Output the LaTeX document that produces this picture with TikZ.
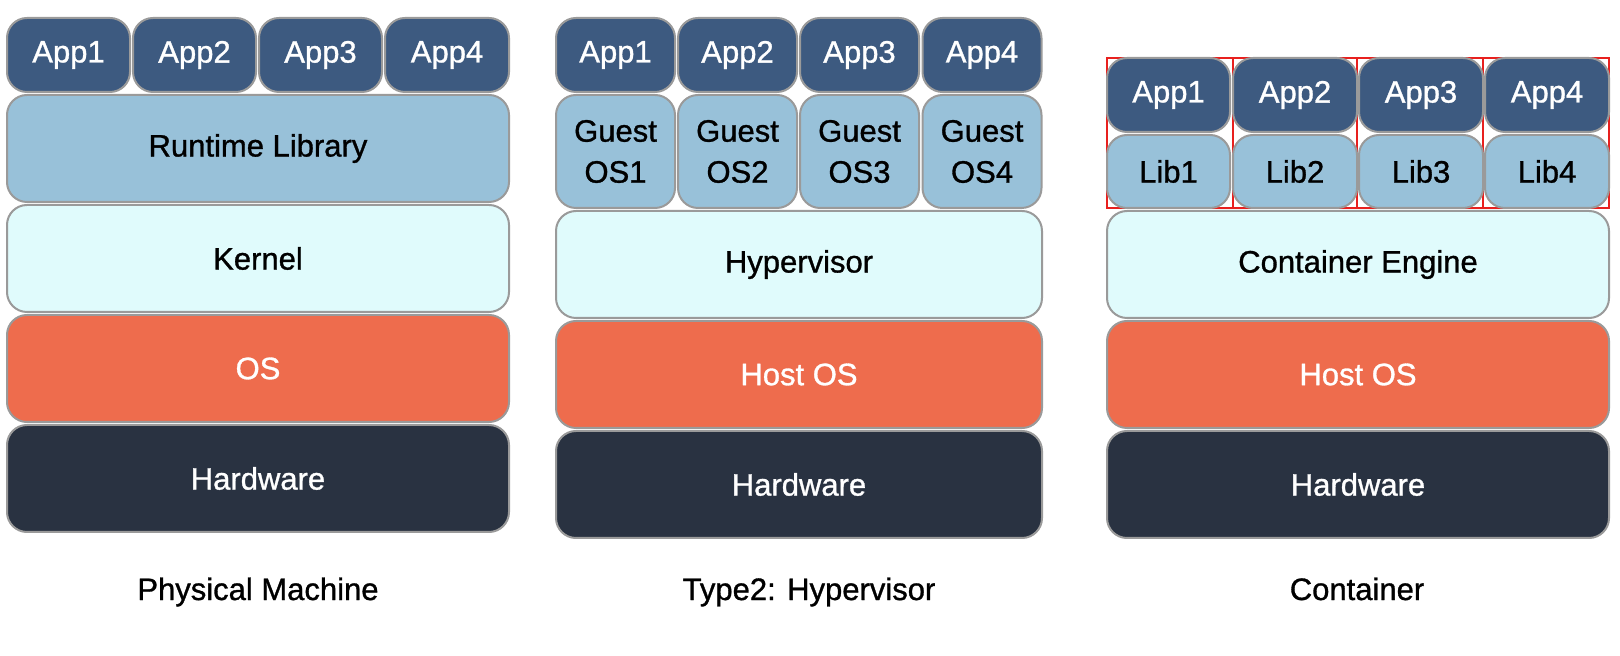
\documentclass[tikz,border=0pt]{standalone}
\usepackage{fontspec}
\newfontfamily\lblfont{Liberation Sans}[FakeBold=1.0]
\definecolor{appc}{HTML}{3D5A80}
\definecolor{libc}{HTML}{98C1D9}
\definecolor{kerc}{HTML}{E0FBFC}
\definecolor{osc}{HTML}{EE6C4D}
\definecolor{hwc}{HTML}{293241}
\definecolor{bord}{HTML}{9A9A9A}
\definecolor{redc}{HTML}{E8201E}
\tikzset{
  layer/.style={draw=bord, line width=1pt, rounded corners=10pt, inner sep=0pt, align=center,
    font=\lblfont\fontsize{15.5}{20.5}\selectfont},
  sz/.style 2 args={minimum width=#1*0.5pt, minimum height=#2*0.5pt},
  app/.style={layer, fill=appc, text=white},
  lib/.style={layer, fill=libc, text=black},
  ker/.style={layer, fill=kerc, text=black},
  hos/.style={layer, fill=osc, text=white},
  hw/.style={layer, fill=hwc, text=white},
  caption/.style={anchor=base, inner sep=0pt, font=\lblfont\fontsize{15.5}{20.5}\selectfont},
  cell/.style={draw=redc, line width=0.6pt}
}
\begin{document}
\begin{tikzpicture}[x=0.5pt, y=-0.5pt]
\useasboundingbox[fill=white] (0,0) rectangle (1620,656);

% ---------- Physical Machine ----------
\node[app, sz={123}{74}] (pa1) at (68.5,55) {App1};
\node[app, sz={123}{74}] (pa2) at (194.5,55) {\raisebox{-1.5pt}{App2}};
\node[app, sz={123}{74}] (pa3) at (320.5,55) {App3};
\node[app, sz={124}{74}] (pa4) at (447,55) {App4};
\node[lib, sz={502}{107}] (prt) at (258,148.5) {Runtime Library};
\node[ker, sz={502}{107}] (pk) at (258,258.5) {Kernel};
\node[hos, sz={502}{107}] (pos) at (258,368.5) {OS};
\node[hw, sz={502}{107}] (phw) at (258,478.5) {Hardware};
\node[caption] (pcap) at (258,600) {Physical Machine};

% ---------- Type2: Hypervisor ----------
\node[app, sz={119}{74}] (ha1) at (615.5,55) {App1};
\node[app, sz={119}{74}] (ha2) at (737.5,55) {App2};
\node[app, sz={119}{74}] (ha3) at (859.5,55) {App3};
\node[app, sz={119}{74}] (ha4) at (982,55) {App4};
\node[lib, sz={119}{113}] (hg1) at (615.5,151.5) {Guest\\OS1};
\node[lib, sz={119}{113}] (hg2) at (737.5,151.5) {Guest\\OS2};
\node[lib, sz={119}{113}] (hg3) at (859.5,151.5) {Guest\\OS3};
\node[lib, sz={119}{113}] (hg4) at (982,151.5) {Guest\\OS4};
\node[ker, sz={486}{107}] (hhv) at (799,264.5) {Hypervisor};
\node[hos, sz={486}{107}] (hos) at (799,374.5) {Host OS};
\node[hw, sz={486}{107}] (hhw) at (799,484.5) {Hardware};
\node[caption] (hcap) at (809,600) {Type2: Hypervisor};

% ---------- Container ----------
\draw[cell] (1107,58) rectangle (1233,208);
\draw[cell] (1233,58) rectangle (1357,208);
\draw[cell] (1357,58) rectangle (1483,208);
\draw[cell] (1483,58) rectangle (1609,208);
\node[app, sz={123}{74}] (ca1) at (1168.5,95) {App1};
\node[app, sz={124}{74}] (ca2) at (1295,95) {App2};
\node[app, sz={124}{74}] (ca3) at (1421,95) {App3};
\node[app, sz={124}{74}] (ca4) at (1547,95) {App4};
\node[lib, sz={123}{73}] (cl1) at (1168.5,171.5) {Lib1};
\node[lib, sz={124}{73}] (cl2) at (1295,171.5) {Lib2};
\node[lib, sz={124}{73}] (cl3) at (1421,171.5) {Lib3};
\node[lib, sz={124}{73}] (cl4) at (1547,171.5) {Lib4};
\node[ker, sz={502}{107}] (cce) at (1358,264.5) {Container Engine};
\node[hos, sz={502}{107}] (cos) at (1358,374.5) {Host OS};
\node[hw, sz={502}{107}] (chw) at (1358,484.5) {Hardware};
\node[caption] (ccap) at (1357,600) {Container};
\end{tikzpicture}
\end{document}
